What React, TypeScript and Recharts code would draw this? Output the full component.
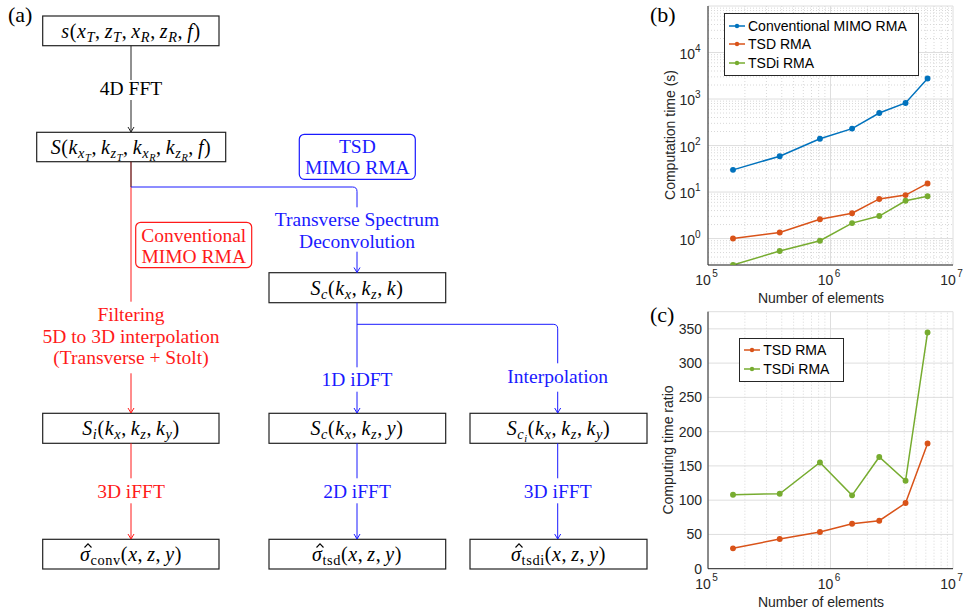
import React from "react";
import { LineChart, Line, XAxis, YAxis, CartesianGrid, ReferenceLine } from "recharts";

// number of elements (x), shared by both plots
const elements = [1.6e5, 3.85e5, 8.2e5, 1.5e6, 2.5e6, 4.1e6, 6.2e6];
// computation time in seconds
const convTime = [30, 59, 140, 231, 500, 824, 2770];
const tsdTime = [1.0, 1.35, 2.6, 3.5, 7.1, 8.6, 15.3];
const tsdiTime = [0.27, 0.54, 0.9, 2.15, 3.05, 6.5, 8.1];
// computing time ratio (conventional / proposed)
const tsdRatio = [29.7, 43.3, 53.5, 65.6, 70, 95.8, 182.8];
const tsdiRatio = [108, 109.4, 155, 107, 163, 128.3, 344.7];

const xTicks = [1e5, 1e6, 1e7];
const timeTicks = [1, 10, 100, 1000, 10000];
const ratioTicks = [0, 50, 100, 150, 200, 250, 300, 350];

const BLUE = "#0072BD";
const ORANGE = "#D95319";
const GREEN = "#77AC30";
const AX = "#262626";
const SANS = '"Liberation Sans", Arial, sans-serif';
const SERIF = '"Liberation Serif", "Times New Roman", serif';

// minor grid lines of the log axes (2..9 per decade)
const minorLog = (from: number, to: number) => {
  const out: number[] = [];
  for (let d = from; d < to; d *= 10) {
    for (let m = 2; m <= 9; m++) out.push(d * m);
  }
  return out;
};
const xMinor = minorLog(1e5, 1e7);
const yMinor = [0.3, 0.4, 0.5, 0.6, 0.7, 0.8, 0.9, ...minorLog(1, 1e5)];

const timeData = elements.map((n, i) => ({
  n,
  conv: convTime[i],
  tsd: tsdTime[i],
  tsdi: tsdiTime[i],
}));
const ratioData = elements.map((n, i) => ({ n, tsd: tsdRatio[i], tsdi: tsdiRatio[i] }));

const XPowTick = (props: any) => {
  const { x, y, payload } = props;
  const e = Math.round(Math.log10(payload.value));
  return (
    <g>
      <text x={x - 5} y={y + 12} fill={AX} fontFamily={SANS} fontSize={14} textAnchor="middle">
        10
      </text>
      <text x={x + 7} y={y + 4} fill={AX} fontFamily={SANS} fontSize={10} textAnchor="middle">
        {e}
      </text>
    </g>
  );
};

const YPowTick = (props: any) => {
  const { x, y, payload } = props;
  const e = Math.round(Math.log10(payload.value));
  return (
    <g>
      <text x={x - 5} y={y + 6} fill={AX} fontFamily={SANS} fontSize={14} textAnchor="end">
        10
      </text>
      <text x={x - 5} y={y - 1} fill={AX} fontFamily={SANS} fontSize={10} textAnchor="start">
        {e}
      </text>
    </g>
  );
};

const LegendBox = ({
  left,
  top,
  width,
  items,
}: {
  left: number;
  top: number;
  width: number;
  items: { name: string; color: string }[];
}) => (
  <div
    style={{
      position: "absolute",
      left,
      top,
      width,
      background: "#fff",
      border: "1px solid #262626",
      padding: "2px 0 3px 0",
      boxSizing: "border-box",
    }}
  >
    {items.map((it) => (
      <div key={it.name} style={{ display: "flex", alignItems: "center", height: 18.7 }}>
        <svg width={20} height={10} style={{ marginLeft: 2, marginRight: 1 }}>
          <line x1={2} y1={5} x2={18} y2={5} stroke={it.color} strokeWidth={1.5} />
          <circle cx={10} cy={5} r={2.2} fill={it.color} />
        </svg>
        <span style={{ fontFamily: SANS, fontSize: 14, color: "#000" }}>{it.name}</span>
      </div>
    ))}
  </div>
);

const Txt = ({
  cx,
  cy,
  color = "#000",
  size = 19.5,
  math = false,
  children,
}: {
  cx: number;
  cy: number;
  color?: string;
  size?: number;
  math?: boolean;
  children: React.ReactNode;
}) => (
  <div
    style={{
      position: "absolute",
      left: cx - 150,
      width: 300,
      top: cy - 13,
      height: 26,
      lineHeight: "26px",
      textAlign: "center",
      color,
      fontSize: math ? 20 : size,
      letterSpacing: math ? 0.6 : 0,
      fontFamily: SERIF,
      whiteSpace: "nowrap",
    }}
  >
    {children}
  </div>
);

const I = ({ children }: { children: React.ReactNode }) => <i>{children}</i>;
const Sub = ({ children }: { children: React.ReactNode }) => (
  <sub style={{ fontSize: "0.72em", verticalAlign: "-0.28em", lineHeight: 0 }}>{children}</sub>
);
const C = () => <span style={{ marginRight: 4 }}>,</span>;
// sigma with a hat accent drawn as a small stroke
const SigmaHat = () => (
  <span style={{ position: "relative", display: "inline-block" }}>
    <i>σ</i>
    <svg width={8} height={5} style={{ position: "absolute", left: 4, top: 2 }}>
      <path d="M0.5,4.5 L4,0.8 L7.5,4.5" stroke="#000" strokeWidth={1.1} fill="none" />
    </svg>
  </span>
);

const arrow = (x: number, y: number, c: string) => (
  <path d={`M${x - 3},${y - 5} L${x},${y} L${x + 3},${y - 5}`} stroke={c} fill="none" strokeWidth={1} />
);

const Flowchart = () => {
  const boxes = [
    [42.7, 16, 176.3, 29.7],
    [36.7, 132.3, 189, 29.4],
    [269, 272.7, 176.7, 30],
    [42.7, 413.3, 176.3, 30],
    [269, 413.3, 176.7, 30],
    [470, 413.3, 177, 30],
    [42.7, 539.3, 176.3, 29.7],
    [269, 539.3, 176.7, 29.7],
    [470, 539.3, 177, 29.7],
  ];
  const R = "#ff1a1a";
  const B = "#1a1aff";
  return (
    <>
      <svg width={964} height={613} style={{ position: "absolute", left: 0, top: 0 }}>
        {boxes.map(([x, y, w, h], i) => (
          <rect key={i} x={x} y={y} width={w} height={h} fill="#fff" stroke="#222" strokeWidth={1.2} />
        ))}
        <rect x={299.3} y={134.3} width={116} height={45} rx={5} fill="none" stroke={B} strokeWidth={1.2} />
        <rect x={135.7} y={222.3} width={116} height={45.4} rx={5} fill="none" stroke={R} strokeWidth={1.2} />

        {/* black trunk */}
        <line x1={131} y1={45.7} x2={131} y2={80} stroke="#222" />
        <line x1={131} y1={100} x2={131} y2={132} stroke="#222" />
        {arrow(131, 132, "#222")}
        <line x1={131} y1={161.7} x2={131} y2={187} stroke="#6a1010" strokeWidth={1.3} />

        {/* conventional branch */}
        <line x1={131} y1={187} x2={131} y2={301.7} stroke={R} />
        <line x1={131} y1={373.3} x2={131} y2={413} stroke={R} />
        {arrow(131, 413, R)}
        <line x1={131} y1={443.3} x2={131} y2={478.3} stroke={R} />
        <line x1={131} y1={503.3} x2={131} y2={539} stroke={R} />
        {arrow(131, 539, R)}

        {/* TSD branch */}
        <path d="M131,187 H352.5 Q357,187 357,191.5 V207.3" stroke={B} fill="none" />
        <line x1={357} y1={251.7} x2={357} y2={272.5} stroke={B} />
        {arrow(357, 272.5, B)}
        <line x1={357} y1={302.7} x2={357} y2={367.3} stroke={B} />
        <path d="M357,324.3 H553.2 Q557.7,324.3 557.7,328.8 V363.3" stroke={B} fill="none" />
        <line x1={357} y1={391.7} x2={357} y2={413} stroke={B} />
        {arrow(357, 413, B)}
        <line x1={557.7} y1={391.7} x2={557.7} y2={413} stroke={B} />
        {arrow(557.7, 413, B)}
        <line x1={357} y1={443.3} x2={357} y2={478.3} stroke={B} />
        <line x1={357} y1={503.3} x2={357} y2={539} stroke={B} />
        {arrow(357, 539, B)}
        <line x1={557.7} y1={443.3} x2={557.7} y2={478.3} stroke={B} />
        <line x1={557.7} y1={503.3} x2={557.7} y2={539} stroke={B} />
        {arrow(557.7, 539, B)}
      </svg>

      <div style={{ position: "absolute", left: 8, top: 2, fontFamily: SERIF, fontSize: 22 }}>(a)</div>

      <Txt cx={131} cy={30.8} math>
        <I>s</I>(<I>x</I>
        <Sub><I>T</I></Sub><C /><I>z</I>
        <Sub><I>T</I></Sub><C /><I>x</I>
        <Sub><I>R</I></Sub><C /><I>z</I>
        <Sub><I>R</I></Sub><C /><I>f</I>)
      </Txt>
      <Txt cx={131} cy={89.3}>4D FFT</Txt>
      <Txt cx={131} cy={147} math>
        <I>S</I>(<I>k</I>
        <Sub><I>x</I><Sub><I>T</I></Sub></Sub><C /><I>k</I>
        <Sub><I>z</I><Sub><I>T</I></Sub></Sub><C /><I>k</I>
        <Sub><I>x</I><Sub><I>R</I></Sub></Sub><C /><I>k</I>
        <Sub><I>z</I><Sub><I>R</I></Sub></Sub><C /><I>f</I>)
      </Txt>

      <Txt cx={357.3} cy={146.7} color={B}>TSD</Txt>
      <Txt cx={357.3} cy={167.7} color={B}>MIMO RMA</Txt>
      <Txt cx={193.7} cy={236} color={R}>Conventional</Txt>
      <Txt cx={193.7} cy={257} color={R}>MIMO RMA</Txt>
      <Txt cx={357} cy={220} color={B}>Transverse Spectrum</Txt>
      <Txt cx={357} cy={241.7} color={B}>Deconvolution</Txt>

      <Txt cx={357} cy={287.7} math>
        <I>S</I><Sub><I>c</I></Sub>(<I>k</I><Sub><I>x</I></Sub><C /><I>k</I><Sub><I>z</I></Sub><C /><I>k</I>)
      </Txt>

      <Txt cx={131} cy={315} color={R}>Filtering</Txt>
      <Txt cx={131} cy={336.7} color={R}>5D to 3D interpolation</Txt>
      <Txt cx={131} cy={357.7} color={R}>(Transverse + Stolt)</Txt>
      <Txt cx={357} cy={380} color={B}>1D iDFT</Txt>
      <Txt cx={557.7} cy={377.3} color={B}>Interpolation</Txt>

      <Txt cx={131} cy={428.3} math>
        <I>S</I><Sub><I>i</I></Sub>(<I>k</I><Sub><I>x</I></Sub><C /><I>k</I><Sub><I>z</I></Sub><C /><I>k</I><Sub><I>y</I></Sub>)
      </Txt>
      <Txt cx={357} cy={428.3} math>
        <I>S</I><Sub><I>c</I></Sub>(<I>k</I><Sub><I>x</I></Sub><C /><I>k</I><Sub><I>z</I></Sub><C /><I>y</I>)
      </Txt>
      <Txt cx={558.5} cy={428.3} math>
        <I>S</I><Sub><I>c</I><Sub><I>i</I></Sub></Sub>(<I>k</I><Sub><I>x</I></Sub><C /><I>k</I><Sub><I>z</I></Sub><C /><I>k</I><Sub><I>y</I></Sub>)
      </Txt>

      <Txt cx={131} cy={491.7} color={R}>3D iFFT</Txt>
      <Txt cx={357} cy={491.7} color={B}>2D iFFT</Txt>
      <Txt cx={557.7} cy={491.7} color={B}>3D iFFT</Txt>

      <Txt cx={131} cy={554.2} math>
        <SigmaHat /><Sub>conv</Sub>(<I>x</I><C /><I>z</I><C /><I>y</I>)
      </Txt>
      <Txt cx={357} cy={554.2} math>
        <SigmaHat /><Sub>tsd</Sub>(<I>x</I><C /><I>z</I><C /><I>y</I>)
      </Txt>
      <Txt cx={558.5} cy={554.2} math>
        <SigmaHat /><Sub>tsdi</Sub>(<I>x</I><C /><I>z</I><C /><I>y</I>)
      </Txt>
    </>
  );
};

const axisLabel = (text: string, cx: number, cy: number, rotate = false) => (
  <div
    style={{
      position: "absolute",
      left: cx - 100,
      top: cy - 9,
      width: 200,
      height: 18,
      lineHeight: "18px",
      textAlign: "center",
      fontFamily: SANS,
      fontSize: 14,
      color: AX,
      transform: rotate ? "rotate(-90deg)" : undefined,
      whiteSpace: "nowrap",
    }}
  >
    {text}
  </div>
);

export default function App() {
  return (
    <div style={{ position: "absolute", left: 0, top: 0, width: 964, height: 613, background: "#fff", overflow: "hidden" }}>
      <Flowchart />

      {/* (b) computation time */}
      <div style={{ position: "absolute", left: 650, top: 0 }}>
        <LineChart width={314} height={310} data={timeData} margin={{ top: 6, right: 11, left: 0, bottom: 0 }}>
          <CartesianGrid stroke="#dedede" strokeWidth={1} />
          {xMinor.map((v) => (
            <ReferenceLine key={"bx" + v} x={v} stroke="#d8d8d8" strokeDasharray="1 2" ifOverflow="hidden" />
          ))}
          {yMinor.map((v) => (
            <ReferenceLine key={"by" + v} y={v} stroke="#d8d8d8" strokeDasharray="1 2" ifOverflow="hidden" />
          ))}
          <XAxis
            dataKey="n"
            type="number"
            scale="log"
            domain={[1e5, 1e7]}
            ticks={xTicks}
            interval={0}
            allowDataOverflow
            height={45}
            tick={<XPowTick />}
            tickLine={false}
            axisLine={{ stroke: AX }}
          />
          <YAxis
            type="number"
            scale="log"
            domain={[0.27, 1e5]}
            ticks={timeTicks}
            interval={0}
            allowDataOverflow
            width={58}
            tick={<YPowTick />}
            tickLine={false}
            axisLine={{ stroke: AX }}
          />
          <Line dataKey="conv" stroke={BLUE} strokeWidth={1.5} dot={{ r: 2.2, fill: BLUE, stroke: BLUE }} isAnimationActive={false} />
          <Line dataKey="tsd" stroke={ORANGE} strokeWidth={1.5} dot={{ r: 2.2, fill: ORANGE, stroke: ORANGE }} isAnimationActive={false} />
          <Line dataKey="tsdi" stroke={GREEN} strokeWidth={1.5} dot={{ r: 2.2, fill: GREEN, stroke: GREEN }} isAnimationActive={false} />
        </LineChart>
        <LegendBox
          left={74}
          top={13.3}
          width={195}
          items={[
            { name: "Conventional MIMO RMA", color: BLUE },
            { name: "TSD RMA", color: ORANGE },
            { name: "TSDi RMA", color: GREEN },
          ]}
        />
        {axisLabel("Computation time (s)", 19.5, 135, true)}
        {axisLabel("Number of elements", 171, 298.3)}
        <div style={{ position: "absolute", left: 0, top: 2, fontFamily: SERIF, fontSize: 22 }}>(b)</div>
      </div>

      {/* (c) computing time ratio */}
      <div style={{ position: "absolute", left: 650, top: 300 }}>
        <LineChart width={314} height={313} data={ratioData} margin={{ top: 11.7, right: 11, left: 0, bottom: 0 }}>
          <CartesianGrid stroke="#dedede" strokeWidth={1} />
          {xMinor.map((v) => (
            <ReferenceLine key={"cx" + v} x={v} stroke="#d8d8d8" strokeDasharray="1 2" ifOverflow="hidden" />
          ))}
          <XAxis
            dataKey="n"
            type="number"
            scale="log"
            domain={[1e5, 1e7]}
            ticks={xTicks}
            interval={0}
            allowDataOverflow
            height={44.3}
            tick={<XPowTick />}
            tickLine={false}
            axisLine={{ stroke: AX }}
          />
          <YAxis
            type="number"
            domain={[0, 375]}
            ticks={ratioTicks}
            interval={0}
            allowDataOverflow
            width={58}
            tick={{ fill: AX, fontFamily: SANS, fontSize: 14, dx: 2 }}
            tickLine={false}
            axisLine={{ stroke: AX }}
          />
          <Line dataKey="tsd" stroke={ORANGE} strokeWidth={1.5} dot={{ r: 2.2, fill: ORANGE, stroke: ORANGE }} isAnimationActive={false} />
          <Line dataKey="tsdi" stroke={GREEN} strokeWidth={1.5} dot={{ r: 2.2, fill: GREEN, stroke: GREEN }} isAnimationActive={false} />
        </LineChart>
        <LegendBox
          left={89.3}
          top={37.7}
          width={105}
          items={[
            { name: "TSD RMA", color: ORANGE },
            { name: "TSDi RMA", color: GREEN },
          ]}
        />
        {axisLabel("Computing time ratio", 18, 150, true)}
        {axisLabel("Number of elements", 171, 301.7)}
        <div style={{ position: "absolute", left: 0, top: 2, fontFamily: SERIF, fontSize: 22 }}>(c)</div>
      </div>
    </div>
  );
}
